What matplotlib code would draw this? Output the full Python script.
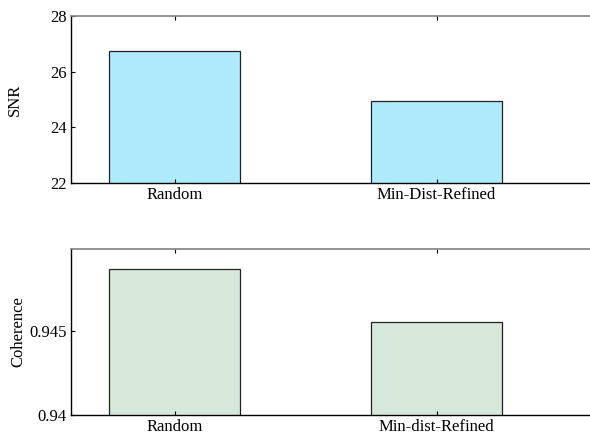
import matplotlib.pyplot as plt

plt.rcParams['font.family'] = ['Liberation Serif', 'DejaVu Serif']
plt.rcParams['font.size'] = 12

methods_top = ['Random', 'Min-Dist-Refined']
methods_bottom = ['Random', 'Min-dist-Refined']
snr = [26.73, 24.93]
coherence = [0.94873, 0.94552]

fig = plt.figure(figsize=(5.9, 4.34), dpi=100)
ax1 = fig.add_axes([0.1203, 0.5783, 0.8858, 0.3848])
ax2 = fig.add_axes([0.1203, 0.0438, 0.8858, 0.3825])

xs = [1, 2]


def style_axes(ax):
	ax.set_xlim(0.603, 2.6)
	ax.set_xticks(xs)
	ax.tick_params(direction='in', length=3, width=0.8, top=True, right=True,
				   colors='black', labelsize=12, pad=3)
	for side in ['left', 'bottom']:
		ax.spines[side].set_color('black')
		ax.spines[side].set_linewidth(1.0)
	for side in ['top', 'right']:
		ax.spines[side].set_color('#808080')
		ax.spines[side].set_linewidth(1.2)


ax1.bar(xs, snr, width=0.5, color='#ADEBFC', edgecolor='#222222', linewidth=0.9)
style_axes(ax1)
ax1.set_xticklabels(methods_top)
ax1.set_ylim(22, 28)
ax1.set_yticks([22, 24, 26, 28])
ax1.set_ylabel('SNR', labelpad=20)

ax2.bar(xs, coherence, width=0.5, color='#D6E8DA', edgecolor='#222222', linewidth=0.9)
style_axes(ax2)
ax2.set_xticklabels(methods_bottom)
ax2.set_ylim(0.94, 0.9499)
ax2.set_yticks([0.94, 0.945])
ax2.set_yticklabels(['0.94', '0.945'])
ax2.set_ylabel('Coherence', labelpad=2)

fig.savefig('out.png', dpi=100)
